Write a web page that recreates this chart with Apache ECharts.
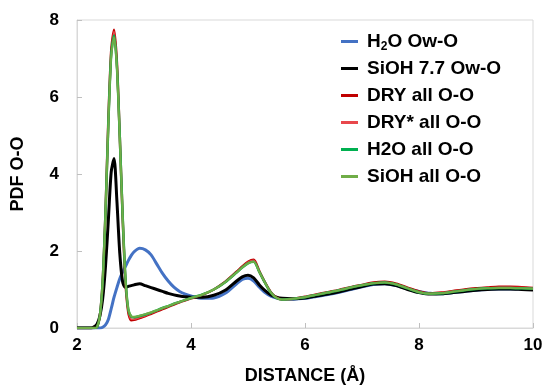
<!DOCTYPE html>
<html>
<head>
<meta charset="utf-8">
<script src="https://cdn.jsdelivr.net/npm/echarts@6/dist/echarts.min.js"></script>
<style>
  html, body { margin: 0; padding: 0; background: #fff; }
  #chart { width: 544px; height: 385px; }
</style>
</head>
<body>
<div id="chart"></div>
<script>
// distance grid (Å), finer around the first peak
const distance = [2.0, 2.25, 2.3, 2.35, 2.4, 2.45, 2.5, 2.55, 2.6, 2.65, 2.7, 2.75, 2.8, 2.85, 2.9, 2.95, 3.0,
  3.1, 3.2, 3.3, 3.4, 3.5, 3.6, 3.7, 3.8, 3.9, 4.0, 4.2, 4.4, 4.6, 4.8, 4.9, 5.0, 5.1, 5.2, 5.3, 5.4, 5.5, 5.6,
  5.8, 6.0, 6.2, 6.4, 6.6, 6.8, 7.0, 7.2, 7.4, 7.6, 7.8, 8.0, 8.2, 8.4, 8.6, 8.8, 9.0, 9.2, 9.4, 9.6, 9.8, 10.0];

const h2oOwO = [0, 0, 0, 0, 0, 0.02, 0.08, 0.22, 0.5, 0.8, 1.05, 1.28, 1.45, 1.6, 1.75, 1.88, 1.98,
  2.07, 2.03, 1.9, 1.66, 1.42, 1.22, 1.06, 0.95, 0.88, 0.83, 0.77, 0.78, 0.9, 1.15, 1.26, 1.29, 1.22, 1.06, 0.92, 0.83, 0.78, 0.76,
  0.75, 0.77, 0.82, 0.87, 0.93, 1.0, 1.07, 1.13, 1.15, 1.1, 1.02, 0.95, 0.9, 0.89, 0.92, 0.95, 0.98, 1.0, 1.01, 1.01, 1.01, 1.0];

const siohOwO = [0, 0, 0.03, 0.1, 0.3, 0.75, 1.6, 2.8, 4.05, 4.4, 3.3, 1.95, 1.2, 1.05, 1.08, 1.1, 1.12,
  1.15, 1.1, 1.05, 1.0, 0.95, 0.9, 0.86, 0.83, 0.81, 0.8, 0.8, 0.85, 0.98, 1.22, 1.33, 1.37, 1.3, 1.12, 0.97, 0.86, 0.8, 0.77,
  0.76, 0.78, 0.83, 0.88, 0.94, 1.01, 1.08, 1.14, 1.15, 1.1, 1.0, 0.92, 0.88, 0.89, 0.92, 0.95, 0.98, 1.0, 1.01, 1.01, 1.0, 0.99];

const dryAll = [0, 0, 0, 0.02, 0.3, 1.2, 3.0, 5.4, 7.2, 7.75, 6.9, 5.0, 2.9, 1.2, 0.4, 0.2, 0.21,
  0.26, 0.31, 0.37, 0.43, 0.49, 0.55, 0.61, 0.67, 0.72, 0.77, 0.86, 1.0, 1.2, 1.46, 1.6, 1.72, 1.77, 1.47, 1.18, 0.93, 0.79, 0.74,
  0.76, 0.81, 0.87, 0.93, 0.99, 1.06, 1.12, 1.18, 1.2, 1.15, 1.05, 0.95, 0.9, 0.92, 0.96, 1.0, 1.03, 1.05, 1.07, 1.07, 1.06, 1.04];

const dryStarAll = [0, 0, 0, 0.02, 0.3, 1.2, 3.0, 5.4, 7.15, 7.7, 6.85, 5.0, 2.9, 1.22, 0.42, 0.23, 0.23,
  0.27, 0.32, 0.38, 0.44, 0.5, 0.56, 0.62, 0.67, 0.72, 0.77, 0.86, 1.0, 1.2, 1.45, 1.59, 1.71, 1.76, 1.46, 1.18, 0.93, 0.79, 0.74,
  0.76, 0.81, 0.87, 0.93, 0.99, 1.06, 1.12, 1.17, 1.19, 1.14, 1.04, 0.94, 0.9, 0.92, 0.96, 0.99, 1.02, 1.04, 1.06, 1.06, 1.05, 1.04];

const h2oAll = [0, 0, 0, 0.02, 0.3, 1.2, 3.0, 5.3, 7.1, 7.6, 6.8, 5.0, 2.95, 1.3, 0.48, 0.3, 0.28,
  0.31, 0.35, 0.4, 0.46, 0.52, 0.57, 0.63, 0.68, 0.73, 0.78, 0.87, 1.0, 1.19, 1.44, 1.57, 1.68, 1.72, 1.45, 1.17, 0.92, 0.78, 0.74,
  0.76, 0.8, 0.86, 0.92, 0.98, 1.05, 1.11, 1.16, 1.18, 1.13, 1.03, 0.93, 0.89, 0.9, 0.94, 0.98, 1.01, 1.03, 1.04, 1.04, 1.03, 1.02];

const siohAll = [0, 0, 0, 0.02, 0.3, 1.2, 3.0, 5.3, 7.05, 7.55, 6.75, 4.95, 2.95, 1.3, 0.5, 0.31, 0.29,
  0.32, 0.36, 0.41, 0.46, 0.52, 0.57, 0.63, 0.68, 0.73, 0.78, 0.87, 1.0, 1.19, 1.44, 1.57, 1.68, 1.72, 1.45, 1.17, 0.92, 0.78, 0.74,
  0.76, 0.8, 0.86, 0.92, 0.98, 1.05, 1.11, 1.16, 1.18, 1.13, 1.03, 0.93, 0.89, 0.9, 0.94, 0.98, 1.01, 1.03, 1.04, 1.04, 1.03, 1.02];

const xTicks = [2, 4, 6, 8, 10];
const yTicks = [0, 2, 4, 6, 8];

const seriesNames = ['H2O Ow-O', 'SiOH 7.7 Ow-O', 'DRY all O-O', 'DRY* all O-O', 'H2O all O-O', 'SiOH all O-O'];
const seriesData = [h2oOwO, siohOwO, dryAll, dryStarAll, h2oAll, siohAll];
const colors = ['#4472C4', '#000000', '#C00000', '#E8474C', '#00B050', '#70AD47'];
const widths = [3, 3, 2.5, 1.5, 2.5, 2];

const font = "'Liberation Sans', Arial, sans-serif";

const chart = echarts.init(document.getElementById('chart'));

chart.setOption({
  animation: false,
  backgroundColor: '#fff',
  grid: {
    left: 77, right: 11, top: 20, bottom: 57,
    outerBoundsMode: 'none',
    containLabel: false,
    show: true, borderColor: '#D9D9D9', borderWidth: 1
  },
  legend: {
    orient: 'vertical',
    left: 336,
    top: 25,
    itemWidth: 17,
    itemHeight: 3,
    itemGap: 4,
    icon: 'rect',
    data: seriesNames,
    formatter(name) {
      if (name === 'H2O Ow-O') return '{a|H}{sub|2}{b|O Ow-O}';
      return '{a|' + name + '}';
    },
    textStyle: {
      fontFamily: font,
      fontWeight: 'bold',
      fontSize: 19,
      color: '#000',
      lineHeight: 23,
      rich: {
        a: { fontFamily: font, fontWeight: 'bold', fontSize: 19, color: '#000', lineHeight: 23, padding: [0, 0, 0, 4] },
        b: { fontFamily: font, fontWeight: 'bold', fontSize: 19, color: '#000', lineHeight: 23 },
        sub: { fontFamily: font, fontWeight: 'bold', fontSize: 12, color: '#000', lineHeight: 23, verticalAlign: 'bottom', padding: [9, 0, 0, 0] }
      }
    }
  },
  xAxis: {
    type: 'value',
    min: xTicks[0], max: xTicks[xTicks.length - 1], interval: 2,
    name: 'DISTANCE (Å)',
    nameLocation: 'middle',
    nameGap: 39,
    nameTextStyle: { fontFamily: font, fontWeight: 'bold', fontSize: 18, color: '#000' },
    axisLine: { show: true, lineStyle: { color: '#D9D9D9' } },
    axisTick: { show: true, inside: true, length: 5, lineStyle: { color: '#BFBFBF' } },
    axisLabel: { fontFamily: font, fontWeight: 'bold', fontSize: 17, color: '#000', margin: 9 },
    splitLine: { show: false }
  },
  yAxis: {
    type: 'value',
    min: yTicks[0], max: yTicks[yTicks.length - 1], interval: 2,
    name: 'PDF O-O',
    nameLocation: 'middle',
    nameGap: 50,
    nameTextStyle: { fontFamily: font, fontWeight: 'bold', fontSize: 18, color: '#000' },
    axisLine: { show: true, lineStyle: { color: '#D9D9D9' } },
    axisTick: { show: true, inside: true, length: 5, lineStyle: { color: '#BFBFBF' } },
    axisLabel: { fontFamily: font, fontWeight: 'bold', fontSize: 17, color: '#000', margin: 18 },
    splitLine: { show: false }
  },
  series: seriesNames.map((name, i) => ({
    name: name,
    type: 'line',
    data: distance.map((d, k) => [d, seriesData[i][k]]),
    showSymbol: false,
    symbol: 'none',
    smooth: 0.25,
    color: colors[i],
    lineStyle: { color: colors[i], width: widths[i] }
  }))
});
</script>
</body>
</html>
